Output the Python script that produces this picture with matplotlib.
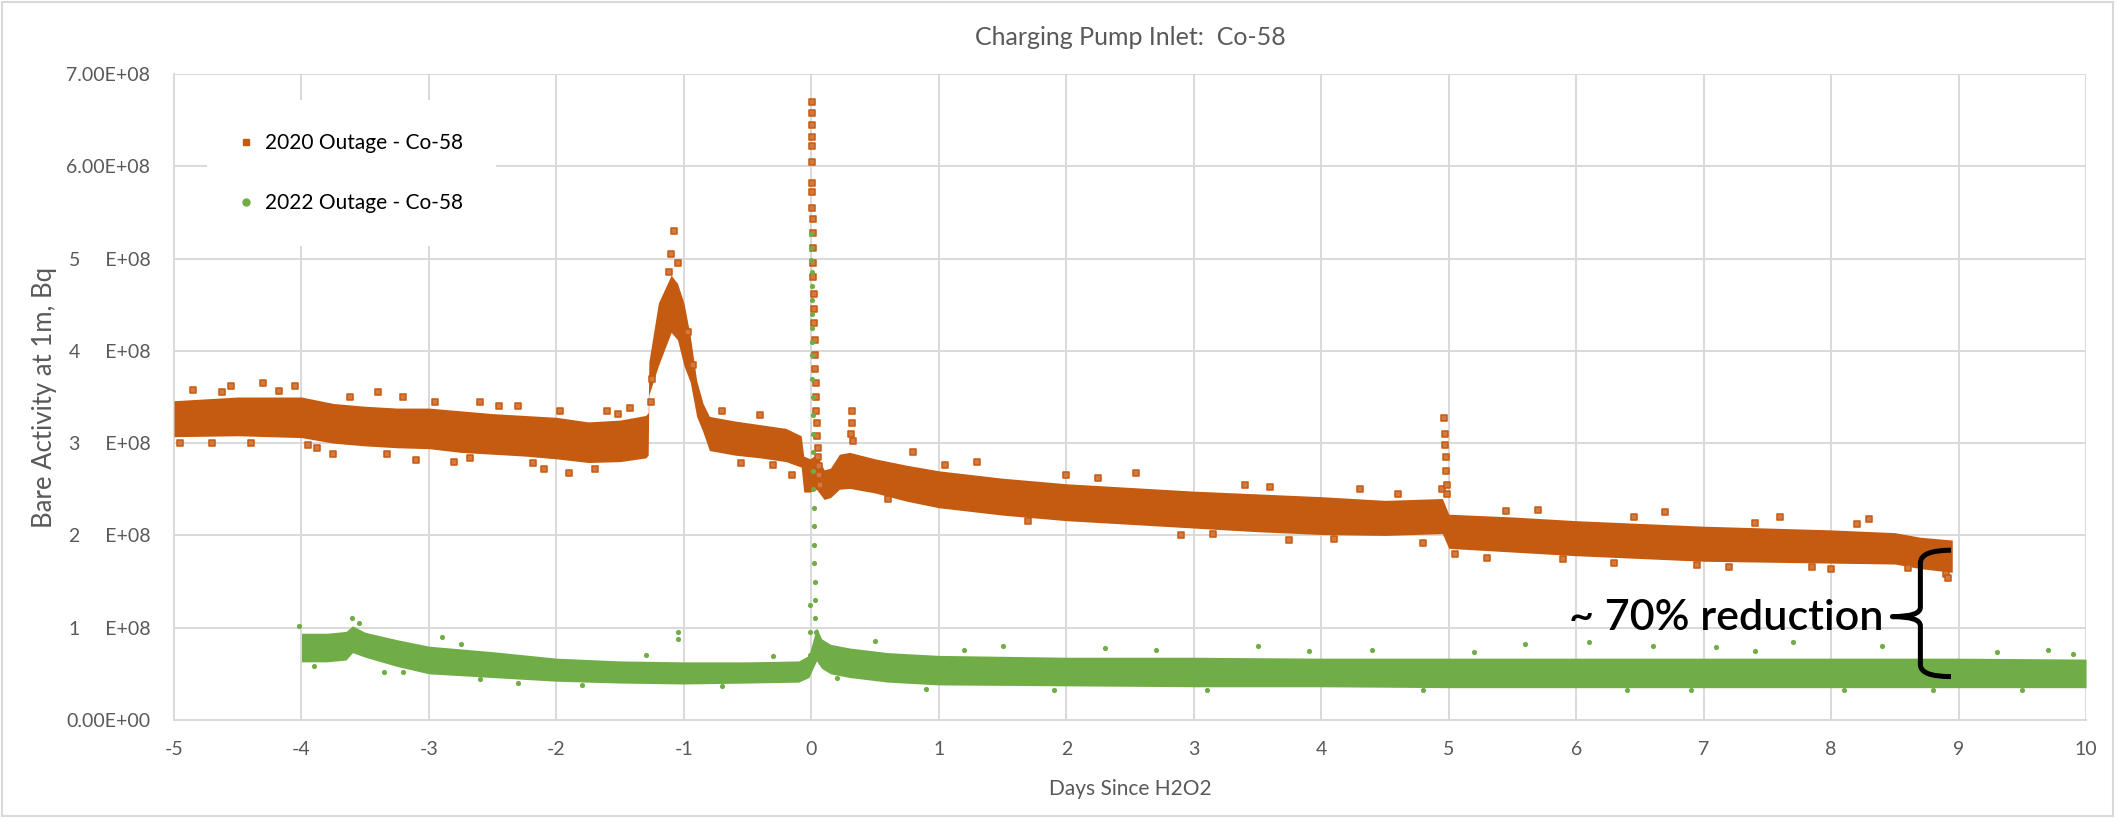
import matplotlib
matplotlib.use('Agg')
import matplotlib.pyplot as plt
from matplotlib.path import Path
from matplotlib.patches import PathPatch, Rectangle
from matplotlib.lines import Line2D

plt.rcParams['font.family'] = ['Lato', 'DejaVu Sans']

# ---------------- data (values in units of 1e8 Bq, x in days) ----------------
SCALE = 1e8

# 2020 outage - dense band: lower / upper envelope of the point cloud
o20_x  = [-5.00, -4.50, -4.00, -3.75, -3.50, -3.25, -3.00, -2.75, -2.50, -2.25, -2.00, -1.75,
          -1.50, -1.30, -1.28, -1.275, -1.20, -1.10, -1.05, -1.00, -0.95, -0.90, -0.85, -0.80,
          -0.60, -0.40, -0.20, -0.08, -0.06, -0.01, 0.04, 0.10, 0.15, 0.22, 0.30, 0.50, 0.75,
          1.00, 1.50, 2.00, 2.50, 3.00, 3.50, 4.00, 4.50, 4.95, 5.00, 5.50, 6.00, 6.50, 7.00,
          7.50, 8.00, 8.50, 8.70, 8.95]
o20_lo = [3.07, 3.08, 3.06, 3.00, 2.97, 2.95, 2.94, 2.90, 2.88, 2.86, 2.83, 2.79,
          2.80, 2.84, 2.87, 3.52, 3.84, 4.20, 4.12, 3.84, 3.66, 3.29, 3.12, 2.92,
          2.87, 2.84, 2.80, 2.74, 2.47, 2.47, 2.50, 2.39, 2.41, 2.50, 2.51, 2.46, 2.37,
          2.30, 2.22, 2.16, 2.12, 2.08, 2.04, 2.01, 2.00, 2.02, 1.86, 1.82, 1.78, 1.75, 1.72,
          1.71, 1.70, 1.69, 1.64, 1.60]
o20_hi = [3.46, 3.50, 3.50, 3.43, 3.40, 3.38, 3.38, 3.35, 3.32, 3.30, 3.28, 3.23,
          3.25, 3.30, 3.33, 3.88, 4.52, 4.82, 4.73, 4.52, 4.16, 3.68, 3.43, 3.29,
          3.24, 3.20, 3.16, 3.08, 2.86, 2.83, 2.88, 2.71, 2.73, 2.88, 2.90, 2.83, 2.76,
          2.70, 2.62, 2.56, 2.52, 2.48, 2.45, 2.42, 2.38, 2.40, 2.23, 2.20, 2.16, 2.13, 2.10,
          2.08, 2.06, 2.03, 1.98, 1.95]

# 2020 outage - sparse points (spikes and outliers)
o20_px = [0.002, 0.002, 0.003, 0.004, 0.004, 0.005, 0.006, 0.007, 0.008, 0.009, 0.010, 0.012,
          0.014, 0.016, 0.018, 0.020, 0.022, 0.025, 0.028, 0.031, 0.034, 0.037, 0.040,
          0.043, 0.046, 0.050, 0.054, 0.058, 0.062, 0.066,
          0.31, 0.32, 0.32, 0.33,
          4.95, 4.96, 4.97, 4.97, 4.98, 4.98, 4.99, 4.99,
          -1.08, -1.10, -1.05, -1.12, -0.97, -1.25, -1.26, -0.93,
          -4.85, -4.70, -4.55, -4.30, -4.05, -3.95, -3.75, -3.40, -3.20, -3.10, -2.80, -2.60,
          -2.30, -2.10, -1.90, -1.60, -1.42, -0.55, -0.40, -0.15, 0.80, 1.30, 2.00, 2.55,
          2.90, 3.40, 3.75, 4.30, 4.80, 5.05, 5.30, 5.70, 6.30, 6.70, 7.20, 7.60, 8.00,
          8.30, 8.90, 8.92,
          -4.95, -4.62, -4.40, -4.18, -3.88, -3.62, -3.33, -2.95, -2.68, -2.45, -2.18, -1.97,
          -1.70, -1.52, -0.70, -0.30, 0.60, 1.05, 1.70, 2.25, 3.15, 3.60, 4.10, 4.60, 5.45,
          5.90, 6.45, 6.95, 7.40, 7.85, 8.20, 8.60]
o20_py = [6.70, 6.58, 6.45, 6.32, 6.22, 6.05, 5.82, 5.72, 5.55, 5.43, 5.28, 5.12,
          4.95, 4.80, 4.62, 4.45, 4.30, 4.12, 3.95, 3.80, 3.65, 3.50, 3.35,
          3.22, 3.08, 2.95, 2.85, 2.75, 2.65, 2.55,
          3.10, 3.35, 3.22, 3.02,
          2.50, 3.27, 3.10, 2.98, 2.85, 2.70, 2.55, 2.45,
          5.30, 5.05, 4.95, 4.85, 4.20, 3.70, 3.45, 3.85,
          3.58, 3.00, 3.62, 3.65, 3.62, 2.98, 2.88, 3.55, 3.50, 2.82, 2.80, 3.45,
          3.40, 2.72, 2.68, 3.35, 3.38, 2.78, 3.30, 2.65, 2.90, 2.80, 2.66, 2.68,
          2.00, 2.55, 1.95, 2.50, 1.92, 1.80, 1.76, 2.28, 1.70, 2.25, 1.66, 2.20, 1.64,
          2.18, 1.58, 1.54,
          3.00, 3.55, 3.00, 3.57, 2.95, 3.50, 2.88, 3.45, 2.84, 3.40, 2.78, 3.35,
          2.72, 3.32, 3.35, 2.76, 2.40, 2.76, 2.16, 2.62, 2.02, 2.53, 1.96, 2.45, 2.26,
          1.74, 2.20, 1.68, 2.14, 1.66, 2.12, 1.65]

# 2022 outage - dense band
g22_x  = [-4.00, -3.80, -3.65, -3.60, -3.50, -3.25, -3.00, -2.50, -2.00, -1.50, -1.00,
          -0.50, -0.10, -0.02, 0.04, 0.08, 0.15, 0.30, 0.60, 1.00, 2.00, 3.00, 4.00,
          5.00, 6.00, 7.00, 8.00, 9.00, 10.00]
g22_lo = [0.63, 0.63, 0.65, 0.73, 0.68, 0.58, 0.50, 0.46, 0.42, 0.40, 0.39,
          0.40, 0.41, 0.46, 0.64, 0.56, 0.50, 0.46, 0.41, 0.38, 0.37, 0.36, 0.36,
          0.35, 0.35, 0.35, 0.35, 0.35, 0.35]
g22_hi = [0.94, 0.94, 0.96, 1.02, 0.95, 0.87, 0.80, 0.74, 0.67, 0.64, 0.63,
          0.63, 0.64, 0.70, 1.00, 0.88, 0.82, 0.78, 0.73, 0.70, 0.68, 0.68, 0.67,
          0.67, 0.67, 0.67, 0.67, 0.67, 0.66]

# 2022 outage - sparse points (spike and outliers)
g22_px = [-0.004, -0.002, 0.000, 0.001, 0.002, 0.003, 0.004, 0.005, 0.006, 0.007, 0.008,
          0.009, 0.010, 0.011, 0.012, 0.014, 0.016, 0.018, 0.020, 0.022, 0.024, 0.026,
          0.028, 0.030, 0.034, 0.038, -0.010, -0.012, -0.014,
          -4.02, -3.60, -3.55, -3.35, -2.90, -2.60, -1.05, -1.05, 0.50, 1.50, 2.30,
          3.50, 4.40, 5.60, 6.10, 6.60, 7.10, 7.70, 8.40, 9.30, 9.70,
          -3.90, -3.20, -2.75, -2.30, -1.80, -1.30, -0.70, -0.30, 0.20, 0.90, 1.20, 1.90,
          2.70, 3.10, 3.90, 4.80, 5.20, 6.40, 6.90, 7.40, 8.10, 8.80, 9.50, 9.90]
g22_py = [5.27, 5.12, 4.98, 4.85, 4.70, 4.55, 4.40, 4.25, 4.10, 3.95, 3.70,
          3.50, 3.30, 3.10, 2.90, 2.70, 2.50, 2.30, 2.10, 1.90, 1.70, 1.50,
          1.30, 1.10, 0.95, 0.85, 1.25, 0.95, 0.70,
          1.02, 1.10, 1.05, 0.52, 0.90, 0.44, 0.95, 0.88, 0.86, 0.80, 0.78,
          0.80, 0.76, 0.82, 0.84, 0.80, 0.79, 0.85, 0.80, 0.74, 0.76,
          0.58, 0.52, 0.82, 0.40, 0.38, 0.70, 0.37, 0.69, 0.46, 0.34, 0.76, 0.33,
          0.76, 0.33, 0.75, 0.32, 0.74, 0.32, 0.33, 0.75, 0.32, 0.33, 0.32, 0.72]

ytick_vals = [0, 1, 2, 3, 4, 5, 6, 7]
ytick_labels = ['0.00E+00', '1     E+08', '2     E+08', '3     E+08',
                '4     E+08', '5     E+08', '6.00E+08', '7.00E+08']
xtick_vals = list(range(-5, 11))
series_names = ['2020 Outage - Co-58', '2022 Outage - Co-58']

# ---------------- styling ----------------
ORANGE = '#C55A11'
ORANGE_LIGHT = '#D47A40'
GREEN = '#70AD47'
GRID = '#D9D9D9'
TXT = '#595959'

fig = plt.figure(figsize=(21.17, 8.19), dpi=100)
fig.patches.append(Rectangle((0.001, 0.004), 0.997, 0.994, transform=fig.transFigure,
                             fill=False, edgecolor='#D9D9D9', linewidth=1.5))
ax = fig.add_axes([0.0822, 0.1209, 0.9032, 0.7887])

ax.set_xlim(-5, 10)
ax.set_ylim(0, 7 * SCALE)

s = lambda v: [a * SCALE for a in v]

ax.fill_between(o20_x, s(o20_lo), s(o20_hi), color=ORANGE, linewidth=0, zorder=3)
ax.scatter(o20_px, s(o20_py), marker='s', s=16, facecolor=ORANGE_LIGHT, edgecolor=ORANGE,
           linewidths=1.1, zorder=4)
ax.fill_between(g22_x, s(g22_lo), s(g22_hi), color=GREEN, linewidth=0, zorder=5)
ax.scatter(g22_px, s(g22_py), marker='o', s=14, facecolor=GREEN, edgecolor=GREEN,
           linewidths=0, zorder=6)

ax.set_yticks([v * SCALE for v in ytick_vals])
ax.set_yticklabels(ytick_labels)
ax.set_xticks(xtick_vals)
ax.set_xticklabels([str(v) for v in xtick_vals])

ax.grid(True, color=GRID, linewidth=1.4, zorder=0)
ax.set_axisbelow(True)
for sp in ['top', 'right']:
    ax.spines[sp].set_visible(False)
for sp in ['left', 'bottom']:
    ax.spines[sp].set_color(GRID)
    ax.spines[sp].set_linewidth(1.4)
ax.tick_params(axis='both', length=0, labelsize=14, colors=TXT)
ax.tick_params(axis='x', pad=15)
ax.tick_params(axis='y', pad=17)

ax.set_title('Charging Pump Inlet:  Co-58', fontsize=18, color=TXT, pad=21)
ax.set_xlabel('Days Since H2O2', fontsize=15, color=TXT, labelpad=15)
ax.set_ylabel('Bare Activity at 1m, Bq', fontsize=18.5, color=TXT, labelpad=7)

handles = [Line2D([], [], linestyle='none', marker='s', markersize=5, markerfacecolor=ORANGE,
                  markeredgecolor=ORANGE),
           Line2D([], [], linestyle='none', marker='o', markersize=5, markerfacecolor=GREEN,
                  markeredgecolor=GREEN)]
leg = ax.legend(handles, series_names, loc='upper left', bbox_to_anchor=(0.017, 0.96),
                frameon=True, facecolor='white', edgecolor='none', framealpha=1,
                fontsize=15, labelspacing=1.9, handlelength=0.6, handletextpad=0.6,
                borderpad=1.6, borderaxespad=0)
leg.set_zorder(10)

# annotation
ax.text(8.41, 1.1 * SCALE, '~ 70% reduction', fontsize=31, fontweight='semibold',
        color='black', ha='right', va='center', zorder=8)
verts = [(8.94, 1.84), (8.70, 1.84), (8.70, 1.70),
         (8.70, 1.22), (8.70, 1.12), (8.48, 1.12), (8.70, 1.12), (8.70, 1.02),
         (8.70, 0.60), (8.70, 0.47), (8.94, 0.47)]
codes = [Path.MOVETO, Path.CURVE3, Path.CURVE3,
         Path.LINETO, Path.CURVE3, Path.CURVE3, Path.CURVE3, Path.CURVE3,
         Path.LINETO, Path.CURVE3, Path.CURVE3]
brace = Path([(x, y * SCALE) for x, y in verts], codes)
ax.add_patch(PathPatch(brace, fill=False, edgecolor='black', linewidth=3.6, zorder=8,
                       capstyle='butt', joinstyle='round'))

fig.savefig('out.png', dpi=100)
